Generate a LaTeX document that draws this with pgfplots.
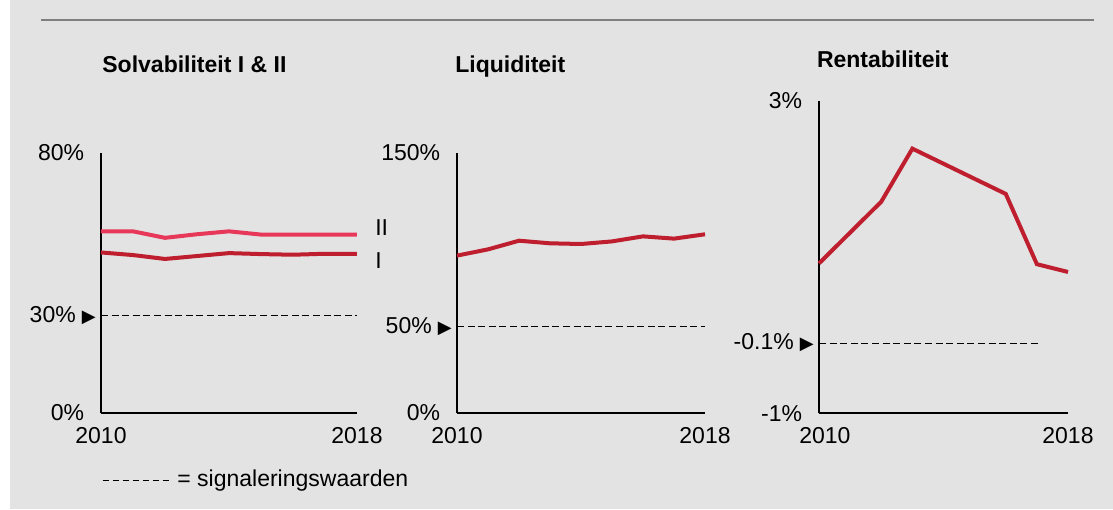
\documentclass[border=0pt]{standalone}
\usepackage{pgfplots}
\pgfplotsset{compat=1.18}
\usepackage{fontspec}
\setmainfont{Liberation Sans}
\newfontfamily\sym{DejaVu Sans}

\definecolor{bg}{HTML}{E3E3E3}
\definecolor{rood}{HTML}{BE1E2D}
\definecolor{roze}{HTML}{E8385A}
\definecolor{lijn}{HTML}{7F7F7F}

\newcommand\fs{\fontsize{11.5}{13}\selectfont}
% pijltje bij de signaleringswaarde
\newcommand\tri{{\sym\fontsize{9}{9}\selectfont ▶}}

\pgfplotsset{
  kern/.style={
    scale only axis, anchor=south west, clip=false,
    axis x line*=bottom, axis y line*=left,
    axis line style={-, line width=1pt},
    major tick length=0pt, tick style={draw=none},
    xmin=2010, xmax=2018,
    xtick={2010,2018}, xticklabels={2010,2018},
    tick label style={font=\fs, inner sep=0pt},
    xticklabel style={anchor=base, yshift=-15.15pt},
    yticklabel style={anchor=east},
  },
  sig/.style={black, line width=0.5pt, dash pattern=on 3.5pt off 1.8pt},
  reeks/.style={line width=2pt},
}

\begin{document}
\begin{tikzpicture}
\path[use as bounding box] (0,0) rectangle (556.5pt,254.5pt);
\fill[bg] (5pt,0) rectangle (556.5pt,254.5pt);
\draw[lijn, line width=0.9pt] (20.5pt,244.5pt) -- (547pt,244.5pt);

% titels
\node[anchor=base west, inner sep=0pt, font=\fs\bfseries] at (51pt,218.35pt) {Solvabiliteit I \& II};
\node[anchor=base west, inner sep=0pt, font=\fs\bfseries] at (227.5pt,218.35pt) {Liquiditeit};
\node[anchor=base west, inner sep=0pt, font=\fs\bfseries] at (408.3pt,220.85pt) {Rentabiliteit};

% solvabiliteit
\begin{axis}[kern, at={(50.5pt,48pt)}, width=128pt, height=130pt,
  ymin=0, ymax=80, ytick={0,30,80},
  yticklabels={0\%\kern8.25pt, 30\%\kern3pt\tri\kern2.5pt, 80\%\kern8.25pt}]
  \addplot[sig] coordinates {(2010,30) (2018,30)};
  \addplot[roze, reeks] coordinates {
    (2010,55.9) (2011,55.9) (2012,53.9) (2013,55.0) (2014,55.9)
    (2015,54.9) (2016,54.9) (2017,54.9) (2018,54.9)};
  \addplot[rood, reeks] coordinates {
    (2010,49.4) (2011,48.6) (2012,47.4) (2013,48.3) (2014,49.2)
    (2015,48.9) (2016,48.7) (2017,49.0) (2018,49.0)};
  \node[anchor=west, inner sep=0pt, font=\fs] at (axis cs:2018.56,56.9) {II};
  \node[anchor=west, inner sep=0pt, font=\fs] at (axis cs:2018.56,46.9) {I};
\end{axis}

% liquiditeit
\begin{axis}[kern, at={(228.5pt,48pt)}, width=124pt, height=130pt,
  ymin=0, ymax=150, ytick={0,50,150},
  yticklabels={0\%\kern8.25pt, 50\%\kern3pt\tri\kern2.5pt, 150\%\kern8.25pt}]
  \addplot[sig] coordinates {(2010,50) (2018,50)};
  \addplot[rood, reeks] coordinates {
    (2010,90.8) (2011,94.4) (2012,99.4) (2013,97.9) (2014,97.5)
    (2015,99.0) (2016,101.9) (2017,100.6) (2018,103.1)};
\end{axis}

% rentabiliteit
\begin{axis}[kern, at={(409.5pt,47.85pt)}, width=124.5pt, height=156.15pt,
  ymin=-1, ymax=3, ytick={-1,-0.1,3},
  xtick={2010.19,2018},
  yticklabels={-1\%\kern8.25pt, -0.1\%\kern3pt\tri\kern2.5pt, 3\%\kern8.25pt}]
  \addplot[sig] coordinates {(2010,-0.1) (2017.13,-0.1)};
  \addplot[rood, reeks] coordinates {
    (2010,0.92) (2012,1.71) (2013,2.39) (2016,1.81) (2017,0.91) (2018,0.81)};
\end{axis}

% legenda
\draw[black, line width=0.5pt, dash pattern=on 3pt off 2pt] (51.35pt,14.5pt) -- (85.85pt,14.5pt);
\node[anchor=base west, inner sep=0pt, font=\fs] at (88.5pt,11.15pt) {= signaleringswaarden};
\end{tikzpicture}
\end{document}
